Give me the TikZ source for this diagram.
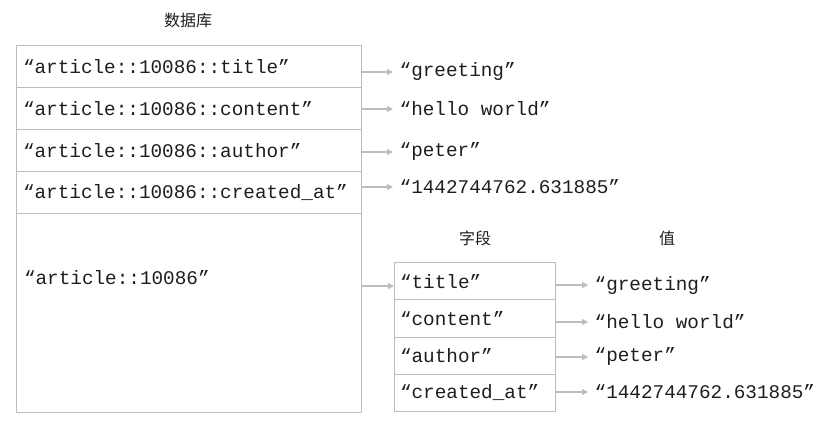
\documentclass[tikz,border=0pt]{standalone}
\usepackage{fontspec}
\setmonofont{Liberation Mono}
\newfontfamily\cjkfont{Noto Sans CJK SC}
\usetikzlibrary{arrows.meta,positioning}
\definecolor{linegray}{HTML}{BDBDBD}
\definecolor{inkblack}{HTML}{1E1E1E}
\tikzset{
	x=0.75pt,
	y=-0.75pt,
	>={Triangle[length=4.5pt,width=4.5pt]},
	every node/.style={outer sep=0pt, text=inkblack},
	mono/.style={font=\ttfamily\fontsize{14.5}{17}\selectfont},
	keycell/.style={
		mono,
		draw=linegray,
		line width=0.75pt,
		text width=248.25pt,
		inner xsep=5.25pt,
		align=left,
		minimum height=31.5pt
	},
	fieldcell/.style={
		mono,
		draw=linegray,
		line width=0.75pt,
		text width=111.75pt,
		inner xsep=4.5pt,
		align=left,
		minimum height=27.75pt
	},
	valtext/.style={mono, anchor=west, inner xsep=5pt},
	head/.style={font=\cjkfont\fontsize{12}{14}\selectfont},
	link/.style={->, draw=linegray, line width=0.9pt}
}
\begin{document}
\begin{tikzpicture}
	\useasboundingbox (0,0) rectangle (827,427);

	% database keys
	\node [head] (db) at (188,20) {数据库};
	\node [keycell, anchor=north west] (k1) at (16,46) {“article::10086::title”};
	\node [keycell, below=0pt of k1] (k2) {“article::10086::content”};
	\node [keycell, below=0pt of k2] (k3) {“article::10086::author”};
	\node [keycell, below=0pt of k3] (k4) {“article::10086::created\_at”};
	\node [keycell, below=0pt of k4, minimum height=148.5pt] (k5) {};
	\node [valtext, inner xsep=0pt] (k5t) at (24,278) {“article::10086”};

	% string values
	\node [valtext] (v1) at (393,72) {“greeting”};
	\node [valtext] (v2) at (393,109) {“hello world”};
	\node [valtext] (v3) at (393,152) {“peter”};
	\node [valtext] (v4) at (393,187) {“1442744762.631885”};
	\foreach \i in {1,...,4}
		\draw [link] (k\i.east |- v\i) -- (v\i.west);

	% hash fields
	\node [head] (fld) at (475,238) {字段};
	\node [head] (val) at (667,238) {值};
	\node [fieldcell, anchor=north west] (f1) at (394,263) {“title”};
	\node [fieldcell, below=0pt of f1] (f2) {“content”};
	\node [fieldcell, below=0pt of f2] (f3) {“author”};
	\node [fieldcell, below=0pt of f3] (f4) {“created\_at”};
	\draw [link] ([yshift=-3.4pt]k5.east |- f1.west) -- ([yshift=-3.4pt]f1.west);

	\node [valtext] (w1) at (588,285) {“greeting”};
	\node [valtext] (w2) at (588,322) {“hello world”};
	\node [valtext] (w3) at (588,357) {“peter”};
	\node [valtext] (w4) at (588,392) {“1442744762.631885”};
	\foreach \i in {1,...,4}
		\draw [link] (f\i.east |- w\i) -- (w\i.west);
\end{tikzpicture}
\end{document}
